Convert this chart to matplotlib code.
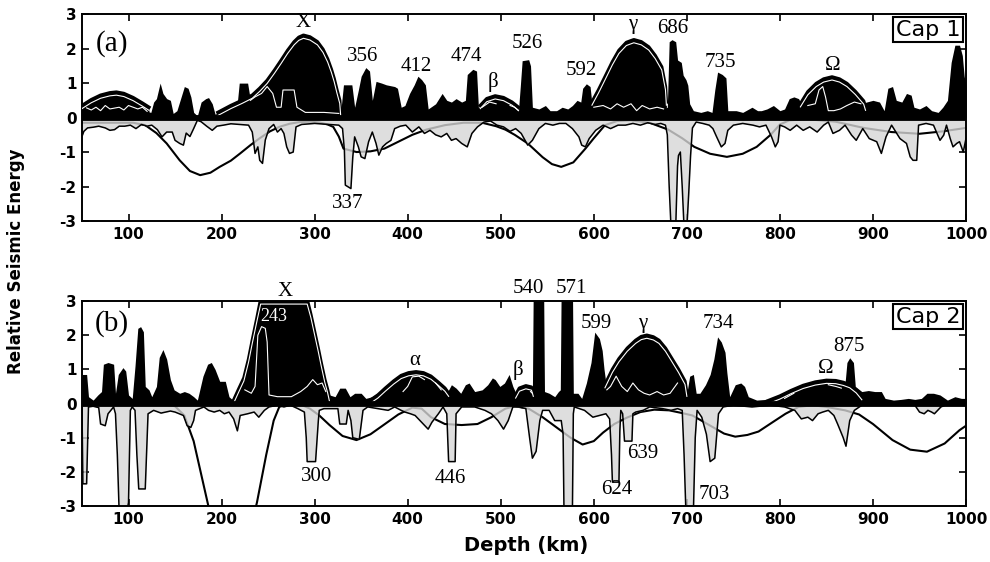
import numpy as np
import matplotlib
matplotlib.use("Agg")
import matplotlib.pyplot as plt

plt.rcParams['axes.unicode_minus'] = False

# ---------------- Cap 1 (panel a) ----------------
# energy above zero (black fill)
pos_a_depth = [50, 55, 60, 65, 70, 75, 80, 90, 95, 100, 105, 110, 115, 120, 124, 127, 130, 134, 137, 141,
               145, 148, 152, 156, 160, 164, 167, 170, 174, 178, 183, 186, 190, 193, 198, 205, 212, 217, 219, 228,
               231, 236, 243, 249, 255, 259, 264, 266, 278, 281, 290, 310, 326, 328, 331, 340, 343, 347, 350, 355,
               359, 362, 366, 372, 377, 386, 389, 393, 397, 402, 407, 411, 415, 419, 422, 430, 437, 442, 447, 452,
               458, 462, 464, 470, 474, 476, 480, 488, 495, 503, 510, 515, 519, 521, 523, 530, 532, 534, 541, 548,
               553, 560, 566, 572, 577, 582, 586, 588, 592, 596, 598, 600, 610, 618, 625, 632, 640, 646, 652, 660,
               668, 675, 679, 681, 684, 688, 690, 694, 696, 699, 701, 703, 707, 715, 722, 727, 730, 733, 738, 742,
               744, 753, 760, 770, 776, 780, 786, 793, 800, 805, 810, 815, 820, 823, 830, 838, 842, 846, 849, 852,
               858, 865, 872, 880, 887, 893, 900, 907, 912, 916, 921, 925, 931, 936, 941, 944, 950, 957, 963, 970,
               975, 980, 984, 988, 993, 996, 998, 1000]
pos_a_val = [0.30, 0.28, 0.22, 0.30, 0.20, 0.35, 0.25, 0.30, 0.22, 0.35, 0.30, 0.25, 0.30, 0.18, 0.15, 0.45, 0.55, 1.00, 0.70, 0.55,
             0.50, 0.12, 0.20, 0.55, 0.90, 0.85, 0.60, 0.15, 0.05, 0.45, 0.55, 0.58, 0.40, 0.10, 0.15, 0.30, 0.35, 0.45, 1.00, 1.00,
             0.50, 0.60, 0.70, 0.90, 0.70, 0.30, 0.30, 0.80, 0.80, 0.30, 0.15, 0.15, 0.12, 0.15, 0.95, 0.95, 0.30, 0.80, 1.20, 1.45,
             1.35, 0.50, 1.05, 1.00, 0.95, 0.90, 0.85, 0.30, 0.35, 0.70, 0.95, 1.20, 1.10, 0.95, 0.25, 0.40, 0.70, 0.50, 0.45, 0.55,
             0.45, 0.50, 1.25, 1.40, 1.35, 0.30, 0.30, 0.45, 0.40, 0.50, 0.35, 0.30, 0.20, 0.90, 1.65, 1.68, 1.50, 0.30, 0.25, 0.35,
             0.20, 0.20, 0.30, 0.25, 0.35, 0.50, 0.45, 0.85, 0.98, 0.90, 0.40, 0.30, 0.35, 0.25, 0.40, 0.30, 0.40, 0.20, 0.35, 0.25,
             0.30, 0.25, 0.30, 2.20, 2.26, 2.20, 1.67, 1.60, 1.23, 1.10, 0.94, 0.40, 0.20, 0.15, 0.20, 0.15, 0.80, 1.32, 1.25, 1.15,
             0.20, 0.20, 0.15, 0.30, 0.20, 0.20, 0.25, 0.35, 0.20, 0.25, 0.55, 0.60, 0.55, 0.40, 0.35, 0.40, 0.80, 0.90, 0.60, 0.20,
             0.20, 0.25, 0.35, 0.45, 0.40, 0.45, 0.50, 0.45, 0.20, 0.85, 0.90, 0.50, 0.45, 0.70, 0.65, 0.30, 0.25, 0.35, 0.20, 0.15,
             0.30, 0.50, 1.60, 2.10, 2.10, 1.80, 1.20, 0.90]

# smooth envelopes (peaks) in panel a
env_a_left_depth = [50, 60, 70, 80, 87, 95, 105, 115, 122]
env_a_left_val = [0.35, 0.52, 0.65, 0.72, 0.74, 0.70, 0.58, 0.42, 0.30]
env_a_X_depth = [196, 210, 222, 233, 241, 249, 257, 264, 271, 278, 283, 288, 295, 303, 309, 314, 318, 321, 324, 327, 328]
env_a_X_val = [0.15, 0.35, 0.50, 0.65, 0.85, 1.08, 1.38, 1.66, 1.95, 2.20, 2.33, 2.39, 2.34, 2.20, 1.98, 1.70, 1.40, 1.13, 0.80, 0.50, 0.15]
env_a_beta_depth = [478, 485, 494, 503, 512, 519]
env_a_beta_val = [0.35, 0.55, 0.63, 0.58, 0.45, 0.30]
env_a_gamma_depth = [598, 605, 612, 620, 627, 635, 643, 651, 659, 666, 673, 677, 678]
env_a_gamma_val = [0.45, 0.80, 1.18, 1.62, 1.95, 2.18, 2.26, 2.20, 2.05, 1.80, 1.47, 0.90, 0.45]
env_a_omega_depth = [822, 830, 839, 847, 856, 864, 872, 881, 890, 892]
env_a_omega_val = [0.40, 0.75, 0.99, 1.12, 1.18, 1.12, 0.99, 0.76, 0.48, 0.30]

# energy below zero (line with grey fill)
neg_a_depth = [50, 52, 56, 62, 68, 75, 80, 85, 90, 96, 102, 108, 114, 120, 125, 131, 136, 141, 147, 150,
               155, 159, 162, 166, 170, 174, 178, 184, 190, 195, 202, 210, 220, 229, 233, 236, 239, 241, 244, 247,
               251, 256, 260, 264, 267, 270, 273, 277, 280, 286, 300, 315, 326, 330, 332, 333, 339, 341, 343, 347,
               350, 354, 358, 362, 366, 369, 373, 377, 382, 386, 392, 398, 405, 412, 418, 424, 430, 436, 442, 447,
               452, 458, 464, 469, 475, 482, 489, 496, 503, 510, 516, 522, 529, 534, 541, 548, 556, 563, 570, 577,
               584, 587, 591, 595, 602, 610, 618, 626, 634, 642, 650, 658, 666, 672, 677, 679, 681, 683, 688, 690,
               691, 693, 695, 697, 700, 702, 704, 706, 710, 717, 724, 728, 732, 737, 741, 744, 750, 760, 771, 778,
               785, 791, 795, 798, 800, 805, 811, 818, 825, 832, 840, 847, 852, 857, 864, 870, 877, 882, 889, 896,
               904, 909, 914, 920, 929, 936, 940, 943, 947, 949, 957, 965, 972, 976, 979, 983, 986, 990, 993, 997,
               1000]
neg_a_val = [-0.55, -0.40, -0.30, -0.28, -0.25, -0.30, -0.37, -0.35, -0.25, -0.25, -0.22, -0.32, -0.20, -0.25, -0.22, -0.35, -0.56, -0.42, -0.42, -0.66,
             -0.75, -0.80, -0.45, -0.55, -0.32, -0.08, -0.12, -0.25, -0.37, -0.25, -0.22, -0.18, -0.20, -0.22, -0.42, -1.04, -0.85, -1.24, -1.33, -0.65,
             -0.32, -0.20, -0.42, -0.32, -0.46, -0.85, -1.04, -1.00, -0.27, -0.20, -0.17, -0.20, -0.22, -0.32, -0.95, -1.96, -2.06, -1.15, -0.56, -0.85,
             -1.14, -1.19, -0.70, -0.42, -0.75, -1.09, -0.85, -0.75, -0.66, -0.32, -0.25, -0.22, -0.42, -0.27, -0.46, -0.37, -0.50, -0.56, -0.46, -0.66,
             -0.61, -0.75, -0.85, -0.46, -0.27, -0.13, -0.10, -0.22, -0.27, -0.40, -0.32, -0.46, -0.80, -0.66, -0.32, -0.17, -0.22, -0.17, -0.17, -0.32,
             -0.56, -0.80, -0.85, -0.61, -0.37, -0.22, -0.32, -0.22, -0.22, -0.17, -0.22, -0.15, -0.20, -0.17, -0.22, -0.50, -2.00, -3.20, -3.20, -1.40,
             -1.10, -1.00, -2.00, -3.20, -3.20, -2.20, -1.10, -0.30, -0.13, -0.17, -0.22, -0.32, -0.56, -0.85, -0.75, -0.37, -0.22, -0.17, -0.22, -0.27,
             -0.22, -0.56, -0.85, -0.70, -0.22, -0.27, -0.37, -0.22, -0.37, -0.27, -0.42, -0.22, -0.13, -0.46, -0.37, -0.22, -0.51, -0.66, -0.32, -0.61,
             -0.70, -1.04, -0.56, -0.22, -0.61, -0.75, -1.14, -1.24, -1.24, -0.22, -0.17, -0.22, -0.66, -0.51, -0.22, -0.61, -0.85, -0.75, -0.70, -1.00,
             -0.60]

# long-wavelength curve below zero
smooth_a_depth = [50, 80, 105, 118, 130, 141, 155, 166, 177, 188, 198, 210, 220, 231, 241, 252, 262, 273, 284, 295,
                  305, 314, 320, 326, 331, 345, 360, 375, 390, 405, 420, 440, 460, 480, 495, 505, 515, 529, 545, 555,
                  565, 578, 591, 600, 612, 625, 640, 660, 680, 695, 708, 725, 743, 760, 775, 790, 800, 810, 830, 860,
                  890, 920, 950, 975, 1000]
smooth_a_val = [-0.15, -0.15, -0.15, -0.22, -0.45, -0.75, -1.24, -1.55, -1.67, -1.60, -1.43, -1.25, -1.04, -0.80, -0.60, -0.40, -0.27, -0.18, -0.13, -0.12,
                -0.14, -0.20, -0.27, -0.55, -0.90, -1.00, -0.98, -0.90, -0.70, -0.50, -0.35, -0.22, -0.15, -0.15, -0.25, -0.35, -0.50, -0.75, -1.15, -1.35,
                -1.43, -1.30, -0.90, -0.60, -0.22, -0.10, -0.08, -0.15, -0.35, -0.60, -0.85, -1.05, -1.14, -1.05, -0.85, -0.50, -0.20, -0.08, -0.05, -0.12,
                -0.30, -0.42, -0.47, -0.40, -0.30]

# ---------------- Cap 2 (panel b) ----------------
pos_b_depth = [50, 55, 57, 62, 67, 71, 73, 78, 84, 86, 89, 94, 97, 100, 104, 107, 110, 113, 116, 118,
               122, 125, 130, 133, 137, 141, 145, 149, 155, 160, 165, 170, 174, 180, 185, 189, 193, 198, 204, 208,
               212, 218, 225, 232, 236, 239, 243, 247, 249, 251, 260, 275, 285, 292, 298, 303, 308, 312, 316, 322,
               327, 333, 338, 343, 350, 355, 362, 370, 378, 384, 390, 395, 400, 405, 412, 418, 424, 430, 436, 442,
               447, 452, 457, 462, 466, 472, 480, 486, 491, 494, 499, 504, 509, 513, 518, 521, 527, 532, 534, 535,
               546, 547, 552, 558, 562, 564, 565, 577, 578, 583, 587, 592, 597, 601, 606, 609, 611, 614, 618, 624,
               630, 636, 642, 648, 654, 660, 668, 675, 682, 690, 696, 700, 703, 707, 710, 714, 720, 725, 729, 733,
               737, 741, 743, 746, 752, 758, 762, 766, 775, 785, 795, 805, 815, 822, 830, 838, 845, 852, 860, 866,
               870, 872, 875, 879, 881, 888, 895, 902, 909, 913, 922, 930, 938, 945, 952, 958, 965, 972, 980, 988,
               995, 1000]
pos_b_val = [0.85, 0.85, 0.20, 0.10, 0.25, 0.35, 1.15, 1.20, 1.15, 0.30, 0.85, 1.05, 0.95, 0.25, 0.15, 1.10, 2.20, 2.25, 2.10, 0.50,
             0.40, 0.20, 0.50, 1.35, 1.58, 1.30, 0.70, 0.40, 0.30, 0.35, 0.30, 0.20, 0.10, 0.80, 1.15, 1.20, 1.00, 0.65, 0.65, 0.20,
             0.10, 0.35, 0.40, 0.30, 0.50, 2.00, 2.25, 2.20, 1.80, 0.25, 0.20, 0.20, 0.35, 0.50, 0.70, 0.55, 0.60, 0.35, 0.25, 0.20,
             0.45, 0.45, 0.20, 0.30, 0.30, 0.15, 0.20, 0.35, 0.45, 0.65, 0.70, 0.35, 0.50, 0.78, 0.80, 0.70, 0.78, 0.60, 0.40, 0.30,
             0.55, 0.45, 0.30, 0.55, 0.60, 0.35, 0.40, 0.55, 0.75, 0.70, 0.50, 0.60, 0.85, 0.50, 0.20, 0.45, 0.45, 0.35, 0.30, 3.60,
             3.60, 0.35, 0.30, 0.20, 0.35, 0.40, 3.60, 3.60, 0.30, 0.30, 0.15, 0.60, 1.20, 2.09, 1.90, 1.55, 1.00, 0.40, 0.50, 0.80,
             0.50, 0.35, 0.60, 0.40, 0.30, 0.25, 0.35, 0.25, 0.30, 0.60, 0.75, 0.30, 0.80, 0.85, 0.30, 0.30, 0.55, 0.85, 1.30, 1.95,
             1.80, 1.50, 0.90, 0.20, 0.55, 0.60, 0.50, 0.20, 0.10, 0.12, 0.10, 0.15, 0.30, 0.45, 0.55, 0.50, 0.60, 0.55, 0.50, 0.45,
             0.60, 1.20, 1.34, 1.20, 0.50, 0.35, 0.38, 0.35, 0.35, 0.15, 0.10, 0.12, 0.15, 0.12, 0.15, 0.30, 0.30, 0.25, 0.10, 0.20,
             0.15, 0.15]

env_b_X_depth = [210, 213, 218, 224, 229, 233, 238, 242, 250, 265, 280, 292, 296, 300, 304, 307, 311, 314, 316]
env_b_X_val = [0.00, 0.10, 0.40, 0.75, 1.30, 1.85, 2.50, 3.05, 3.60, 3.90, 3.60, 3.05, 2.60, 2.10, 1.60, 1.20, 0.70, 0.40, 0.15]
env_b_alpha_depth = [360, 368, 376, 385, 393, 401, 409, 417, 425, 433, 440, 444]
env_b_alpha_val = [0.10, 0.25, 0.45, 0.66, 0.82, 0.90, 0.93, 0.90, 0.80, 0.62, 0.45, 0.30]
env_b_beta_depth = [516, 520, 527, 533, 535]
env_b_beta_val = [0.25, 0.45, 0.52, 0.48, 0.30]
env_b_gamma_depth = [612, 620, 627, 636, 645, 651, 657, 664, 670, 677, 684, 691, 698, 700]
env_b_gamma_val = [0.55, 1.00, 1.31, 1.62, 1.85, 1.96, 2.00, 1.95, 1.85, 1.62, 1.31, 1.00, 0.65, 0.30]
env_b_omega_depth = [787, 800, 812, 825, 838, 850, 860, 868, 875, 882, 888]
env_b_omega_val = [0.08, 0.22, 0.38, 0.53, 0.63, 0.68, 0.67, 0.62, 0.55, 0.40, 0.20]

neg_b_depth = [50, 51, 55, 57, 62, 68, 70, 75, 78, 84, 86, 88, 90, 98, 100, 102, 104, 107, 109, 111,
               118, 121, 127, 135, 145, 150, 159, 163, 167, 170, 172, 181, 186, 192, 198, 203, 208, 213, 217, 220,
               228, 235, 240, 246, 251, 260, 267, 274, 282, 289, 291, 292, 301, 304, 305, 310, 325, 327, 334, 336,
               339, 341, 348, 351, 352, 357, 368, 379, 386, 393, 397, 403, 408, 415, 422, 426, 433, 438, 442, 443,
               444, 451, 452, 458, 472, 483, 490, 497, 503, 508, 513, 520, 527, 531, 534, 538, 542, 545, 552, 558,
               565, 567, 568, 577, 578, 579, 590, 599, 606, 613, 617, 619, 620, 627, 628, 629, 631, 633, 641, 642,
               645, 653, 660, 674, 683, 690, 695, 697, 699, 707, 709, 711, 716, 721, 725, 730, 734, 739, 750, 770,
               790, 805, 816, 823, 830, 835, 841, 846, 852, 858, 862, 868, 871, 875, 880, 888, 910, 945, 950, 955,
               959, 963, 966, 973, 980, 1000]
neg_b_val = [-0.10, -2.35, -2.35, -0.10, -0.08, -0.12, -0.60, -0.65, -0.30, -0.10, -0.30, -1.50, -3.20, -3.20, -2.90, -0.20, -0.10, -0.20, -1.50, -2.50,
             -2.50, -0.30, -0.20, -0.28, -0.22, -0.25, -0.35, -0.65, -0.70, -0.50, -0.20, -0.10, -0.20, -0.25, -0.20, -0.30, -0.25, -0.45, -0.80, -0.35,
             -0.30, -0.25, -0.40, -0.20, -0.10, -0.05, -0.10, -0.05, -0.15, -0.25, -1.00, -1.70, -1.70, -0.50, -0.20, -0.15, -0.15, -0.60, -0.60, -0.20,
             -0.50, -1.00, -1.05, -0.40, -0.20, -0.10, -0.15, -0.20, -0.10, -0.20, -0.25, -0.30, -0.35, -0.55, -0.75, -0.55, -0.30, -0.10, -0.30, -1.00,
             -1.70, -1.70, -0.30, -0.10, -0.10, -0.20, -0.30, -0.50, -0.75, -0.50, -0.10, -0.10, -0.15, -1.00, -1.60, -1.40, -0.50, -0.20, -0.20, -0.50,
             -0.50, -0.90, -3.20, -3.20, -0.30, -0.10, -0.20, -0.40, -0.35, -0.30, -0.45, -1.50, -2.30, -2.30, -0.80, -0.20, -0.30, -1.10, -1.10, -0.30,
             -0.25, -0.20, -0.10, -0.15, -0.20, -0.15, -0.20, -1.50, -3.20, -3.20, -1.00, -0.20, -0.40, -0.90, -1.70, -1.60, -0.30, -0.10, -0.05, -0.10,
             -0.05, -0.10, -0.20, -0.45, -0.40, -0.50, -0.30, -0.25, -0.20, -0.35, -0.60, -1.00, -1.25, -0.50, -0.20, -0.05, -0.03, -0.05, -0.25, -0.30,
             -0.20, -0.25, -0.30, -0.10, -0.02, -0.02]

smooth_b_depth = [50, 100, 140, 150, 160, 170, 180, 190, 200, 215, 228, 238, 248, 256, 262, 272, 285, 295, 305, 316,
                  330, 345, 360, 374, 390, 405, 415, 425, 440, 458, 475, 490, 505, 515, 530, 545, 560, 575, 588, 600,
                  610, 622, 635, 650, 665, 681, 695, 706, 724, 740, 752, 765, 777, 792, 806, 820, 835, 850, 870, 885,
                  900, 921, 940, 958, 977, 993, 1000]
smooth_b_val = [-0.02, -0.02, -0.03, -0.08, -0.35, -1.10, -2.30, -3.50, -4.30, -4.50, -4.00, -2.90, -1.50, -0.50, -0.10, 0.00, -0.03, -0.15, -0.35, -0.63,
                -0.95, -1.07, -0.90, -0.63, -0.32, -0.12, -0.15, -0.40, -0.60, -0.63, -0.60, -0.40, -0.15, -0.08, -0.15, -0.40, -0.70, -1.00, -1.20, -1.10,
                -0.85, -0.60, -0.42, -0.25, -0.18, -0.20, -0.28, -0.35, -0.63, -0.88, -0.97, -0.92, -0.82, -0.55, -0.30, -0.10, -0.05, -0.10, -0.20, -0.32,
                -0.60, -1.07, -1.35, -1.41, -1.17, -0.78, -0.65]

SERIF = 'Liberation Serif'


def draw_panel(ax, pd, pv, bumps, nd, nv, sd, sv):
    pd, pv = np.asarray(pd, float), np.asarray(pv, float)
    # long-wavelength curve first, the grey fill greys it where they overlap
    ax.plot(sd, sv, color='black', lw=1.5, zorder=1)
    ax.fill_between(nd, nv, 0, color='#d6d6d6', alpha=0.8, lw=0, zorder=2)
    ax.plot(nd, nv, color='black', lw=1.1, zorder=3)
    ax.fill_between(pd, 0, pv, color='black', lw=0, zorder=4)
    for bd, bv in bumps:
        bd, bv = np.asarray(bd, float), np.asarray(bv, float)
        ax.fill_between(bd, 0, bv, color='black', lw=0, zorder=4)
        ax.plot(bd, bv, color='black', lw=2.4, zorder=5)
        ax.plot(bd, np.minimum(bv, 3.0) - 0.09, color='white', lw=0.8, zorder=6)
        env = np.interp(pd, bd, bv)
        under = (pd >= bd[0]) & (pd <= bd[-1]) & (pv < env - 0.08)
        ax.plot(pd, np.where(under, pv, np.nan), color='white', lw=0.8, zorder=6)
    ax.axhline(0, color='black', lw=4.2, zorder=7)

    ax.set_xlim(50, 1000)
    ax.set_ylim(-3, 3)
    ax.set_xticks(range(100, 1001, 100))
    ax.set_yticks(range(-3, 4))
    ax.tick_params(direction='in', length=5, width=1.2, top=True, right=True,
                   labelsize=11, pad=4)
    for lab in ax.get_xticklabels() + ax.get_yticklabels():
        lab.set_fontweight('bold')
    for sp in ax.spines.values():
        sp.set_linewidth(1.4)


def label(ax, x, y, s, size=15, color='black'):
    ax.text(x, y, s, ha='center', va='center', fontsize=size, family=SERIF,
            color=color, zorder=9)


fig = plt.figure(figsize=(9.9, 5.62), dpi=100)
ax_a = fig.add_axes([0.0828, 0.6068, 0.893, 0.368])
ax_b = fig.add_axes([0.0828, 0.0996, 0.893, 0.3648])

draw_panel(ax_a, pos_a_depth, pos_a_val,
           [(env_a_left_depth, env_a_left_val), (env_a_X_depth, env_a_X_val),
            (env_a_beta_depth, env_a_beta_val), (env_a_gamma_depth, env_a_gamma_val),
            (env_a_omega_depth, env_a_omega_val)],
           neg_a_depth, neg_a_val, smooth_a_depth, smooth_a_val)

draw_panel(ax_b, pos_b_depth, pos_b_val,
           [(env_b_X_depth, env_b_X_val), (env_b_alpha_depth, env_b_alpha_val),
            (env_b_beta_depth, env_b_beta_val), (env_b_gamma_depth, env_b_gamma_val),
            (env_b_omega_depth, env_b_omega_val)],
           neg_b_depth, neg_b_val, smooth_b_depth, smooth_b_val)

# panel a annotations
label(ax_a, 82, 2.15, '(a)', size=21)
label(ax_a, 288, 2.75, 'X')
label(ax_a, 352, 1.76, '356')
label(ax_a, 409, 1.47, '412')
label(ax_a, 463, 1.76, '474')
label(ax_a, 492, 1.03, 'β')
label(ax_a, 529, 2.14, '526')
label(ax_a, 587, 1.37, '592')
label(ax_a, 642, 2.70, 'γ')
label(ax_a, 685, 2.58, '686')
label(ax_a, 736, 1.61, '735')
label(ax_a, 857, 1.52, 'Ω')
label(ax_a, 336, -2.49, '337')

# panel b annotations
label(ax_b, 82, 2.35, '(b)', size=21)
label(ax_b, 268, 3.28, 'X')
label(ax_b, 256, 2.55, '243', size=13, color='white')
label(ax_b, 408, 1.27, 'α')
label(ax_b, 519, 0.97, 'β')
label(ax_b, 530, 3.36, '540')
label(ax_b, 576, 3.36, '571')
label(ax_b, 603, 2.34, '599')
label(ax_b, 653, 2.34, 'γ')
label(ax_b, 734, 2.34, '734')
label(ax_b, 874, 1.66, '875')
label(ax_b, 849, 1.02, 'Ω')
label(ax_b, 302, -2.14, '300')
label(ax_b, 446, -2.19, '446')
label(ax_b, 653, -1.46, '639')
label(ax_b, 625, -2.53, '624')
label(ax_b, 729, -2.67, '703')

for ax, name in [(ax_a, 'Cap 1'), (ax_b, 'Cap 2')]:
    ax.annotate(name, xy=(1, 1), xycoords='axes fraction', xytext=(-4, -4),
                textcoords='offset points', ha='right', va='top', fontsize=16,
                zorder=10,
                bbox=dict(boxstyle='square,pad=0.12', fc='white', ec='black', lw=1.5))

fig.text(0.016, 0.535, 'Relative Seismic Energy', rotation=90, ha='center',
         va='center', fontsize=12, fontweight='bold')
fig.text(0.531, 0.030, 'Depth (km)', ha='center', va='center', fontsize=14,
         fontweight='bold')

fig.savefig('out.png', dpi=100)
